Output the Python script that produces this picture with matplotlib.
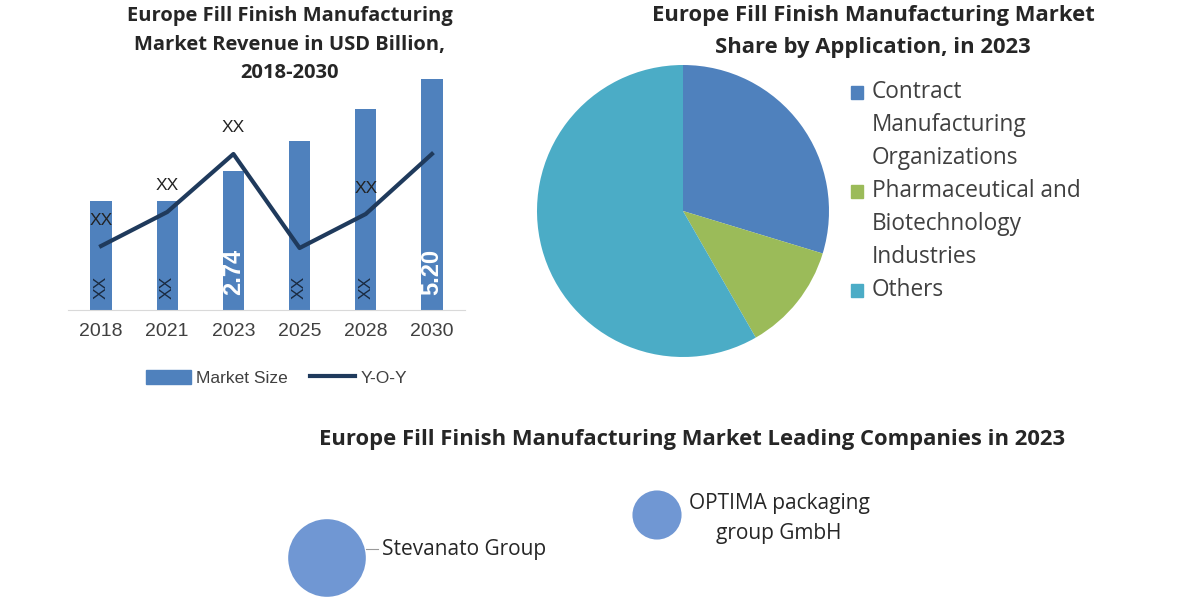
import numpy as np
import matplotlib.pyplot as plt
from matplotlib.patches import Rectangle
from matplotlib.lines import Line2D
from matplotlib.patches import Patch

# chart data
years = ['2018', '2021', '2023', '2025', '2028', '2030']
market_size = [1.93, 1.93, 2.74, 3.54, 4.40, 5.20]
bar_labels = ['XX', 'XX', '2.74', 'XX', 'XX', '5.20']
yoy = [3.2, 4.9, 7.8, 3.1, 4.8, 7.8]
yoy_labels = ['XX', 'XX', 'XX', '', 'XX', '']

applications = ['Contract\nManufacturing\nOrganizations',
                'Pharmaceutical and\nBiotechnology\nIndustries',
                'Others']
app_share = [29.7, 12.0, 58.3]

companies = ['Stevanato Group', 'OPTIMA packaging\ngroup GmbH']
company_weight = [2.5, 1.0]

bar_color = '#4f81bd'
line_color = '#1f3a5c'
pie_colors = ['#4f81bd', '#9bbb59', '#4bacc6']
bubble_color = '#7097d3'
text_gray = '#404040'
title_font = 'Open Sans'

W, H = 1200, 600
fig = plt.figure(figsize=(12, 6), dpi=100)


def rect(l, t, r, b):
    return [l / W, 1 - b / H, (r - l) / W, (b - t) / H]


def fx(px):
    return px / W


def fy(py):
    return 1 - py / H


# ---- left: bar + line chart ----
ax = fig.add_axes(rect(68, 70, 465, 310))
x = np.arange(len(years))
base = -0.99
ax.bar(x, np.array(market_size) - base, bottom=base, width=0.32, color=bar_color)
ax.set_xlim(-0.5, 5.5)
ax.set_ylim(base, 5.44)
for s in ['top', 'left', 'right']:
    ax.spines[s].set_visible(False)
ax.spines['bottom'].set_color('#d9d9d9')
ax.set_yticks([])
ax.set_xticks(x)
ax.set_xticklabels(years, fontsize=14, color=text_gray, family='Liberation Sans')
ax.tick_params(axis='x', length=0, pad=9)

for i, lab in enumerate(bar_labels):
    if lab == 'XX':
        ax.annotate(lab, (x[i], base), xytext=(0, 23), textcoords='offset pixels',
                    ha='center', va='center', rotation=90, fontsize=12.5,
                    color='#1a2a40', family='Liberation Sans')
    else:
        ax.annotate(lab, (x[i], base), xytext=(0, 38), textcoords='offset pixels',
                    ha='center', va='center', rotation=90, fontsize=17,
                    color='white', fontweight='bold', family='Liberation Sans')

ax2 = ax.twinx()
ax2.plot(x, yoy, color=line_color, lw=3)
ax2.set_ylim(0, 12)
ax2.set_yticks([])
for s in ax2.spines.values():
    s.set_visible(False)
for i, lab in enumerate(yoy_labels):
    if lab:
        ax2.annotate(lab, (x[i], yoy[i]), xytext=(0, 26), textcoords='offset pixels',
                     ha='center', va='center', fontsize=12.5, color='#222222',
                     family='Liberation Sans')

handles = [Patch(color=bar_color), Line2D([0], [0], color=line_color, lw=3)]
ax.legend(handles, ['Market Size', 'Y-O-Y'], ncol=2, loc='center',
          bbox_to_anchor=(0.525, -0.283), frameon=False, handlelength=2.6,
          handleheight=0.9, columnspacing=1.3, handletextpad=0.3,
          prop={'family': 'Liberation Sans', 'size': 12.5}, labelcolor=text_gray)

left_title = ['Europe Fill Finish Manufacturing',
              'Market Revenue in USD Billion,',
              '2018-2030']
for line, py in zip(left_title, [16, 45, 73]):
    fig.text(fx(290), fy(py), line, ha='center', va='center', fontsize=14.5,
             fontweight='bold', family=title_font, color='#262626')

# ---- right: pie chart ----
axp = fig.add_axes(rect(537, 65, 829, 357))
axp.pie(app_share, colors=pie_colors, startangle=90, counterclock=False,
        radius=1, wedgeprops={'linewidth': 0})
axp.set_xlim(-1, 1)
axp.set_ylim(-1, 1)

for line, py in zip(['Europe Fill Finish Manufacturing Market',
                     'Share by Application, in 2023'], [15, 47]):
    fig.text(fx(873), fy(py), line, ha='center', va='center', fontsize=15.8,
             fontweight='bold', family=title_font, color='#262626')

line_h = 33
row = 0
for lab, col in zip(applications, pie_colors):
    py0 = 92 + row * line_h
    fig.patches.append(Rectangle((fx(851), fy(py0 + 7)), 12 / W, 13 / H,
                                 transform=fig.transFigure, color=col))
    for j, part in enumerate(lab.split('\n')):
        fig.text(fx(872), fy(py0 + j * line_h), part, ha='left', va='center',
                 fontsize=16.3, family='Open Sans', color=text_gray)
    row += len(lab.split('\n'))

# ---- bottom: leading companies ----
fig.text(fx(692), fy(439), 'Europe Fill Finish Manufacturing Market Leading Companies in 2023',
         ha='center', va='center', fontsize=15.8, fontweight='bold', family=title_font,
         color='#262626')

axb = fig.add_axes(rect(0, 460, 1200, 600))
axb.set_xlim(0, W)
axb.set_ylim(600, 460)
axb.axis('off')
bx = [327, 657]
by = [558, 515]
axb.scatter(bx, by, s=np.array(company_weight) * 1250, color=bubble_color,
            edgecolors='none', clip_on=False)
axb.plot([366, 378], [549, 549], color='#999999', lw=0.8)
axb.text(382, 549, companies[0], ha='left', va='center', fontsize=15,
         family='Open Sans', color='#262626')
for j, part in enumerate(companies[1].split('\n')):
    axb.text(779, 503 + j * 30, part, ha='center', va='center', fontsize=15,
             family='Open Sans', color='#262626')

fig.savefig('out.png', dpi=100)
